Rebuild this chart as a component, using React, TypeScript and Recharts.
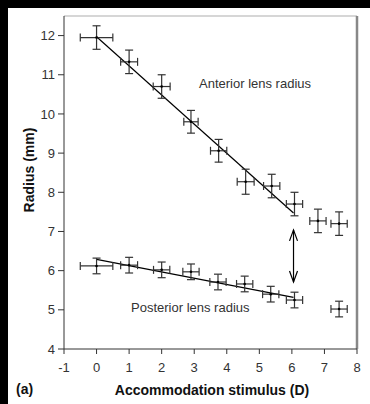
import React from 'react';
import {
  ComposedChart, Scatter, Line, XAxis, YAxis, ErrorBar, ReferenceLine
} from 'recharts';

// anterior lens radius (mm) vs accommodation stimulus (D)
const anteriorX = [0, 1.0, 2.0, 2.9, 3.75, 4.58, 5.38, 6.08, 6.8, 7.45];
const anteriorY = [11.95, 11.33, 10.7, 9.8, 9.06, 8.27, 8.16, 7.7, 7.27, 7.2];
const anteriorXErr = [0.5, 0.26, 0.26, 0.22, 0.25, 0.26, 0.25, 0.25, 0.25, 0.25];
const anteriorYErr = [0.3, 0.3, 0.3, 0.29, 0.29, 0.32, 0.3, 0.3, 0.3, 0.3];

// posterior lens radius
const posteriorX = [0, 1.0, 2.0, 2.9, 3.73, 4.55, 5.35, 6.08, 7.45];
const posteriorY = [6.12, 6.14, 6.02, 5.97, 5.71, 5.66, 5.4, 5.25, 5.02];
const posteriorXErr = [0.5, 0.26, 0.25, 0.25, 0.25, 0.25, 0.25, 0.25, 0.25];
const posteriorYErr = [0.2, 0.2, 0.2, 0.2, 0.2, 0.2, 0.2, 0.2, 0.2];

// fitted lines
const anteriorFitX = [0, 6.05];
const anteriorFitY = [11.97, 7.47];
const posteriorFitX = [0, 6.05];
const posteriorFitY = [6.29, 5.32];

// double arrow between the two curves
const arrowX = [6.05, 6.05];
const arrowY = [5.71, 7.04];

const xTicks = [-1, 0, 1, 2, 3, 4, 5, 6, 7, 8];
const yTicks = [4, 5, 6, 7, 8, 9, 10, 11, 12];

const FONT = 'Arial, "Liberation Sans", sans-serif';

const toPoints = (xs: number[], ys: number[], exs?: number[], eys?: number[]) =>
  xs.map((x, i) => ({ x, y: ys[i], ex: exs ? exs[i] : 0, ey: eys ? eys[i] : 0 }));

const anteriorData = toPoints(anteriorX, anteriorY, anteriorXErr, anteriorYErr);
const posteriorData = toPoints(posteriorX, posteriorY, posteriorXErr, posteriorYErr);
const anteriorFit = toPoints(anteriorFitX, anteriorFitY);
const posteriorFit = toPoints(posteriorFitX, posteriorFitY);
const arrowData = toPoints(arrowX, arrowY);

const CenterDot = (props: any) => (
  <circle cx={props.cx} cy={props.cy} r={1.3} fill="#000" />
);

const ArrowHead = (props: any) => {
  const { cx, cy, index } = props;
  const dir = index === 0 ? -1 : 1; // first point is the lower end
  return (
    <polyline
      key={`ah-${index}`}
      points={`${cx - 4},${cy + dir * 11} ${cx},${cy} ${cx + 4},${cy + dir * 11}`}
      fill="none"
      stroke="#000"
      strokeWidth={1.2}
    />
  );
};

const tickStyle = { fill: '#333', fontSize: 13, fontFamily: FONT };

export default function App() {
  return (
    <div style={{ position: 'fixed', left: 0, top: 0, width: 370, height: 404, background: '#000' }}>
      <div style={{ position: 'absolute', left: 8, top: 8, width: 362, height: 396, background: '#fff' }} />
      <div style={{ position: 'absolute', left: 0, top: 0 }}>
        <ComposedChart width={370} height={404} margin={{ top: 16, right: 13, bottom: 25, left: 24 }}>
          <XAxis
            type="number"
            dataKey="x"
            domain={[-1, 8]}
            ticks={xTicks}
            allowDataOverflow
            height={30}
            stroke="#333"
            tickSize={5}
            tickMargin={9}
            tick={tickStyle}
          />
          <YAxis
            type="number"
            dataKey="y"
            domain={[4, 12.5]}
            ticks={yTicks}
            allowDataOverflow
            width={40}
            stroke="#333"
            tickSize={6}
            tickMargin={3}
            tick={tickStyle}
          />
          <ReferenceLine y={12.5} stroke="#c8c8c8" strokeWidth={1.5} />
          <ReferenceLine x={8} stroke="#888" strokeWidth={2.5} />
          <Line data={anteriorFit} dataKey="y" stroke="#000" strokeWidth={1.2} dot={false} isAnimationActive={false} />
          <Line data={posteriorFit} dataKey="y" stroke="#000" strokeWidth={1.2} dot={false} isAnimationActive={false} />
          <Line data={arrowData} dataKey="y" stroke="#000" strokeWidth={1.2} dot={ArrowHead} isAnimationActive={false} />
          <Scatter data={anteriorData} dataKey="y" shape={CenterDot} isAnimationActive={false}>
            <ErrorBar dataKey="ex" direction="x" width={4} stroke="#333" strokeWidth={1.2} />
            <ErrorBar dataKey="ey" direction="y" width={4} stroke="#333" strokeWidth={1.2} />
          </Scatter>
          <Scatter data={posteriorData} dataKey="y" shape={CenterDot} isAnimationActive={false}>
            <ErrorBar dataKey="ex" direction="x" width={4} stroke="#333" strokeWidth={1.2} />
            <ErrorBar dataKey="ey" direction="y" width={4} stroke="#333" strokeWidth={1.2} />
          </Scatter>
        </ComposedChart>
      </div>
      <svg width={370} height={404} style={{ position: 'absolute', left: 0, top: 0, pointerEvents: 'none' }}>
        <text x={199} y={88} fontSize={13} fill="#333" fontFamily={FONT}>Anterior lens radius</text>
        <text x={131} y={312} fontSize={13} fill="#333" fontFamily={FONT}>Posterior lens radius</text>
        <text
          x={34}
          y={170}
          fontSize={14}
          fontWeight="bold"
          fill="#111"
          fontFamily={FONT}
          textAnchor="middle"
          transform="rotate(-90, 34, 170)"
        >
          Radius (mm)
        </text>
        <text x={212} y={395} fontSize={14} fontWeight="bold" fill="#111" fontFamily={FONT} textAnchor="middle">
          Accommodation stimulus (D)
        </text>
        <text x={16} y={394} fontSize={14} fontWeight="bold" fill="#111" fontFamily={FONT}>(a)</text>
      </svg>
    </div>
  );
}
